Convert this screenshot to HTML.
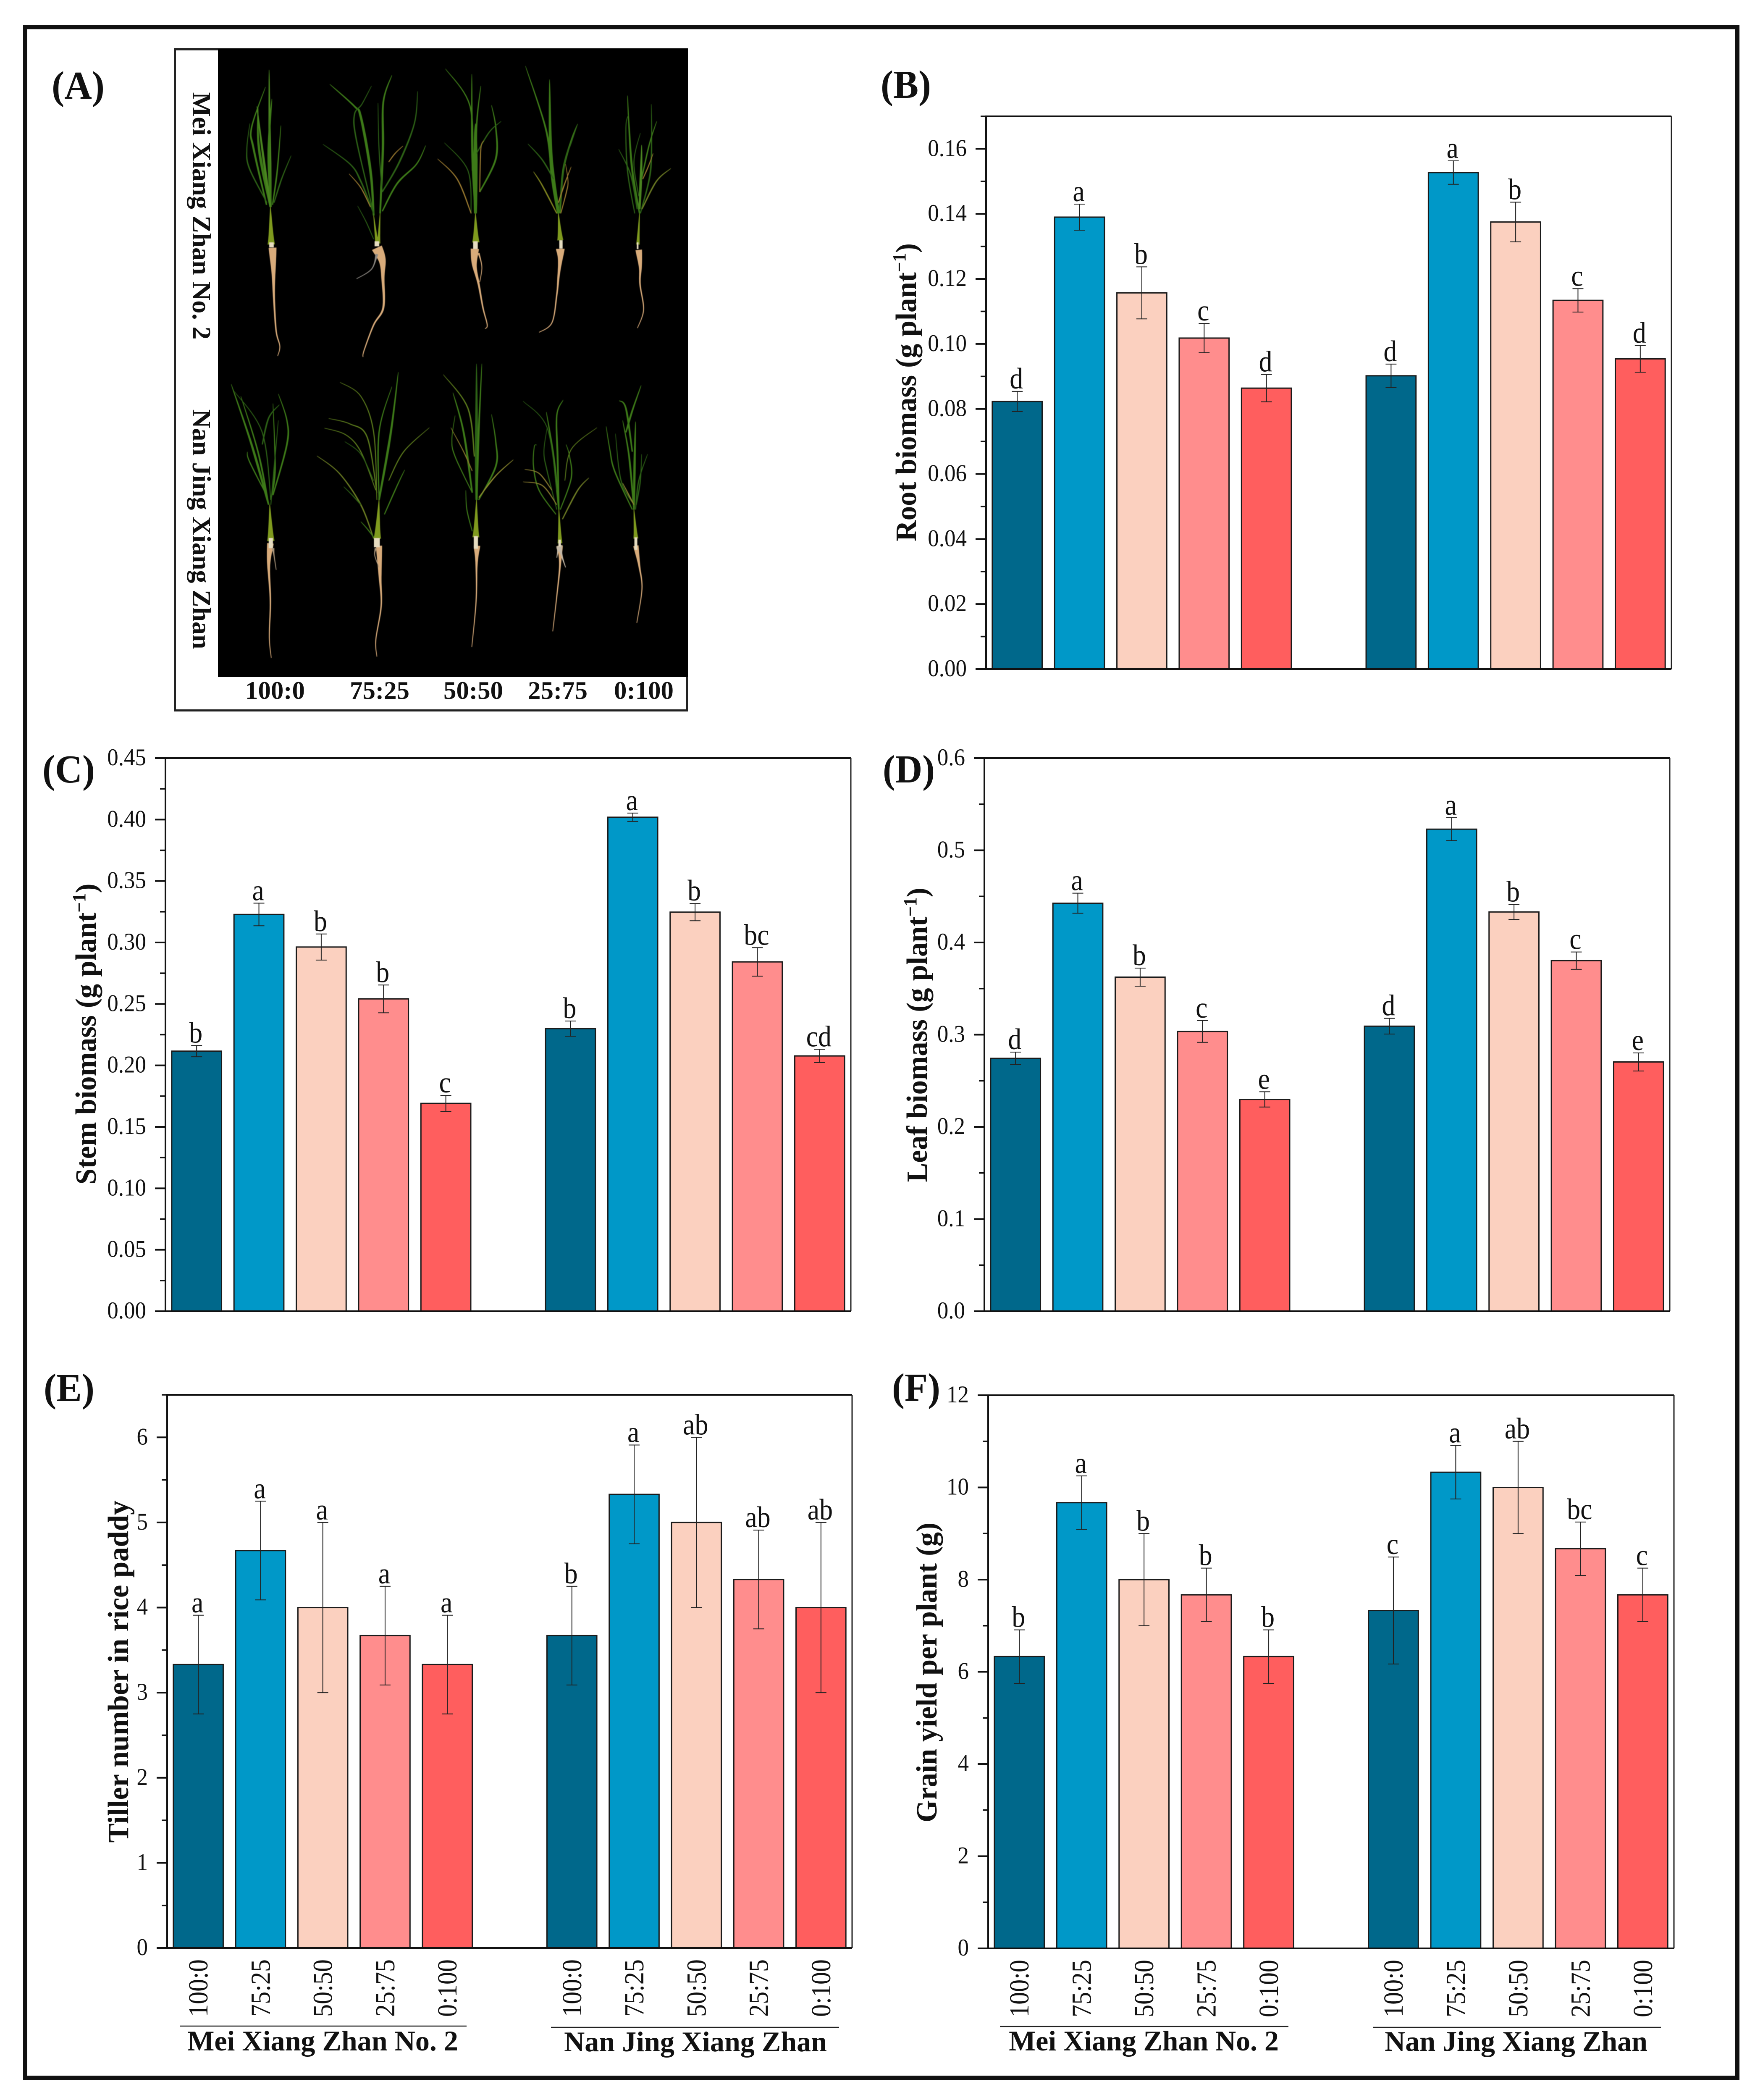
<!DOCTYPE html>
<html lang="en">
<head>
<meta charset="utf-8">
<title>Rice biomass and yield figure</title>
<style>
html,body{margin:0;padding:0;background:#fff;}
body{width:4179px;height:5000px;overflow:hidden;}
svg{display:block;position:fixed;left:0;top:0;overflow:hidden;}
text{font-family:"Liberation Serif",serif;fill:#111;}
</style>
</head>
<body>
<svg id="fig" xmlns="http://www.w3.org/2000/svg" width="4179" height="5013" viewBox="0 0 4179 5013">
<rect x="60" y="64.5" width="4077" height="4882.5" fill="none" stroke="#111" stroke-width="10"/>
<g>
<rect x="416.5" y="117.5" width="1219" height="1574" fill="#fff" stroke="#222" stroke-width="5"/>
<rect x="519" y="116" width="1119" height="1496" fill="#000"/>
<g id="plants" style="filter:blur(0.9px)"></g>
</g>
<g id="charts"></g>
<g id="labels"></g>
</svg>
<script>
// ---------- chart data ----------
const categories = ['100:0','75:25','50:50','25:75','0:100','100:0','75:25','50:50','25:75','0:100'];
const barColors = ['#00688b','#0098c8','#fbd0bf','#ff8d8d','#ff5e5e'];

const rootValues = [0.0823,0.139,0.1157,0.1018,0.0864,0.0902,0.1527,0.1375,0.1134,0.0954];
const rootErrors = [0.0031,0.0040,0.0080,0.0045,0.0042,0.0036,0.0036,0.0061,0.0036,0.0041];
const rootLetters = ['d','a','b','c','d','d','a','b','c','d'];
const rootTicks = ['0.00','0.02','0.04','0.06','0.08','0.10','0.12','0.14','0.16'];
const rootMax = 0.17;

const stemValues = [0.2116,0.3228,0.2963,0.2541,0.1691,0.2299,0.4019,0.3247,0.2842,0.2077];
const stemErrors = [0.0046,0.0092,0.0106,0.0113,0.0065,0.0062,0.0034,0.0070,0.0116,0.0054];
const stemLetters = ['b','a','b','b','c','b','a','b','bc','cd'];
const stemTicks = ['0.00','0.05','0.10','0.15','0.20','0.25','0.30','0.35','0.40','0.45'];
const stemMax = 0.45;

const leafValues = [0.2743,0.4426,0.3624,0.3035,0.2298,0.3092,0.5229,0.4331,0.3803,0.2704];
const leafErrors = [0.0068,0.0109,0.0098,0.0118,0.0083,0.0085,0.0124,0.0081,0.0094,0.0098];
const leafLetters = ['d','a','b','c','e','d','a','b','c','e'];
const leafTicks = ['0.0','0.1','0.2','0.3','0.4','0.5','0.6'];
const leafMax = 0.6;

const tillerValues = [3.33,4.67,4.0,3.67,3.33,3.67,5.33,5.0,4.33,4.0];
const tillerErrors = [0.58,0.58,1.0,0.58,0.58,0.58,0.58,1.0,0.58,1.0];
const tillerLetters = ['a','a','a','a','a','b','a','ab','ab','ab'];
const tillerTicks = ['0','1','2','3','4','5','6'];
const tillerMax = 6.5;

const grainValues = [6.33,9.67,8.0,7.67,6.33,7.33,10.33,10.0,8.67,7.67];
const grainErrors = [0.58,0.58,1.0,0.58,0.58,1.16,0.58,1.0,0.58,0.58];
const grainLetters = ['b','a','b','b','b','c','a','ab','bc','c'];
const grainTicks = ['0','2','4','6','8','10','12'];
const grainMax = 12;

// ---------- helpers ----------
const NS = 'http://www.w3.org/2000/svg';
const charts = document.getElementById('charts');
const labels = document.getElementById('labels');
const plantsLayer = document.getElementById('plants');

function mk(parent, tag, attrs){
  const el = document.createElementNS(NS, tag);
  for (const k in attrs) el.setAttribute(k, attrs[k]);
  parent.appendChild(el);
  return el;
}
function txt(parent, str, x, y, size, weight, anchor){
  const el = mk(parent, 'text', {x:x, y:y, 'font-size':size, 'font-weight':weight, 'text-anchor':anchor});
  el.textContent = str;
  return el;
}
// Places text at (x,y) with rotation, horizontally scaled to a wanted length or by a fixed factor
function placed(el, x, y, rot, len, factor){
  el.setAttribute('x', 0);
  el.setAttribute('y', 0);
  let k = factor || 1;
  if (len) k = len / el.getComputedTextLength();
  el.setAttribute('transform', 'translate(' + x + ' ' + y + ') rotate(' + rot + ') scale(' + k + ' 1)');
}

// ---------- panels ----------
function drawPanel(name, left, top, values, errors, letters, ticks, yMax, width, height){
  const g = mk(charts, 'g', {});
  
  
  const bottom = top + height;
  const y = v => bottom - (v / yMax) * height;
  const slot = i => (i < 5 ? i : i + 1);
  const x = i => left + (slot(i) + 0.5) * width / 11;
  const bandW = width / 11 * 0.8;

  values.forEach((v, i) => {
    const bar = mk(g, 'rect', {x: x(i) - bandW / 2, y: y(v), width: bandW, height: bottom - y(v), fill: barColors[i % 5], stroke: '#1a1a1a', 'stroke-width': 3});
    
    
  });
  values.forEach((v, i) => {
    const hi = y(v + errors[i]);
    const lo = y(v - errors[i]);
    const err = mk(g, 'path', {d: 'M' + x(i) + ' ' + hi + 'V' + lo + 'M' + (x(i) - 13) + ' ' + hi + 'H' + (x(i) + 13) + 'M' + (x(i) - 13) + ' ' + lo + 'H' + (x(i) + 13), fill: 'none', stroke: '#222', 'stroke-width': 2});
    
    
    const sig = txt(g, letters[i], 0, 0, 71, 'normal', 'middle');
    
    
    placed(sig, x(i) - 2, hi - 7, 0, 0, 0.9);
  });

  // frame
  const frame = mk(g, 'path', {d: 'M' + left + ' ' + top + 'H' + (left + width), fill: 'none', stroke: '#111', 'stroke-width': 4});
  
  
  const rightAxis = mk(g, 'path', {d: 'M' + (left + width) + ' ' + top + 'V' + bottom, fill: 'none', stroke: '#222', 'stroke-width': 3});
  
  
  const yAxis = mk(g, 'path', {d: 'M' + left + ' ' + (top - 2) + 'V' + (bottom + 2), fill: 'none', stroke: '#111', 'stroke-width': 4});
  
  
  const xAxis = mk(g, 'path', {d: 'M' + left + ' ' + bottom + 'H' + (left + width), fill: 'none', stroke: '#111', 'stroke-width': 4});
  
  

  // ticks
  const nums = ticks.map(parseFloat);
  const step = nums[1] - nums[0];
  nums.forEach((n, i) => {
    const ty = y(n);
    const tick = mk(g, 'path', {d: 'M' + (left - 25) + ' ' + ty + 'H' + left, fill: 'none', stroke: '#111', 'stroke-width': 4});
    
    
    const lab = txt(g, ticks[i], 0, 0, 57, 'normal', 'end');
    
    
    placed(lab, left - 46, ty + 17, 0, 0, 0.93);
    const mv = n + step / 2;
    if (mv <= yMax + 1e-9) {
      const minor = mk(g, 'path', {d: 'M' + (left - 13) + ' ' + y(mv) + 'H' + left, fill: 'none', stroke: '#111', 'stroke-width': 3.5});
      
      
    }
  });
  return {x: x, bottom: bottom};
}

function yTitle(name, main, sup, x, cy, len){
  const t = mk(labels, 'text', {'font-size': 70, 'font-weight': 'bold', 'text-anchor': 'middle'});
  
  
  const a = mk(t, 'tspan', {});
  a.textContent = main;
  if (sup) {
    const b = mk(t, 'tspan', {'font-size': 44, dy: -25});
    b.textContent = '\u22121';
    const c = mk(t, 'tspan', {dy: 25});
    c.textContent = ')';
  }
  placed(t, x, cy, -90, len);
}

function panelLetter(name, str, x0, x1, base){
  const t = txt(labels, str, 0, 0, 94, 'bold', 'middle');
  
  
  placed(t, (x0 + x1) / 2, base, 0, x1 - x0);
}

function groupLabels(name, info, meiX0, meiX1, meiY, meiLine, nanX0, nanX1, nanY, nanLine, lineA0, lineA1, lineB0, lineB1){
  categories.forEach((c, i) => {
    const t = txt(labels, c, 0, 0, 66, 'normal', 'end');
    
    
    placed(t, info.x(i) + 22, info.bottom + 27, -90, 137);
  });
  const l1 = mk(labels, 'path', {d: 'M' + lineA0 + ' ' + meiLine + 'H' + lineA1, stroke: '#222', 'stroke-width': 2.5, fill: 'none'});
  
  
  const l2 = mk(labels, 'path', {d: 'M' + lineB0 + ' ' + nanLine + 'H' + lineB1, stroke: '#222', 'stroke-width': 2.5, fill: 'none'});
  
  
  const g1 = txt(labels, 'Mei Xiang Zhan No. 2', 0, 0, 68, 'bold', 'middle');
  
  
  placed(g1, (meiX0 + meiX1) / 2, meiY, 0, meiX1 - meiX0);
  const g2 = txt(labels, 'Nan Jing Xiang Zhan', 0, 0, 68, 'bold', 'middle');
  
  
  placed(g2, (nanX0 + nanX1) / 2, nanY, 0, nanX1 - nanX0);
}

drawPanel('root-biomass', 2348, 277, rootValues, rootErrors, rootLetters, rootTicks, rootMax, 1632, 1316);
drawPanel('stem-biomass', 394, 1805, stemValues, stemErrors, stemLetters, stemTicks, stemMax, 1632, 1317);
drawPanel('leaf-biomass', 2344, 1805, leafValues, leafErrors, leafLetters, leafTicks, leafMax, 1632, 1317);
const tillerInfo = drawPanel('tiller-number', 398, 3321, tillerValues, tillerErrors, tillerLetters, tillerTicks, tillerMax, 1631, 1317);
const grainInfo = drawPanel('grain-yield', 2353, 3322, grainValues, grainErrors, grainLetters, grainTicks, grainMax, 1633, 1317);

yTitle('root-biomass', 'Root biomass (g plant', true, 2181, 934, 710);
yTitle('stem-biomass', 'Stem biomass (g plant', true, 228, 2462, 717);
yTitle('leaf-biomass', 'Leaf biomass (g plant', true, 2207, 2464, 701);
yTitle('tiller-number', 'Tiller number in rice paddy', false, 305, 3980, 815);
yTitle('grain-yield', 'Grain yield per plant (g)', false, 2230, 3982, 714);

panelLetter('panel-label-a', '(A)', 123, 249, 235);
panelLetter('panel-label-b', '(B)', 2097, 2217, 233);
panelLetter('panel-label-c', '(C)', 101, 226, 1863);
panelLetter('panel-label-d', '(D)', 2102, 2226, 1863);
panelLetter('panel-label-e', '(E)', 104, 225, 3336);
panelLetter('panel-label-f', '(F)', 2124, 2239, 3335);

groupLabels('tiller-number', tillerInfo, 446, 1091, 4882, 4824, 1343, 1969, 4884, 4827, 428, 1111, 1312, 1998);
groupLabels('grain-yield', grainInfo, 2402, 3045, 4882, 4825, 3297, 3923, 4883, 4827, 2381, 3068, 3269, 3955);

// ---------- photo labels ----------
const cultivar1 = txt(labels, 'Mei Xiang Zhan No. 2', 0, 0, 62, 'bold', 'middle');


placed(cultivar1, 459, 514, 90, 589);
const cultivar2 = txt(labels, 'Nan Jing Xiang Zhan', 0, 0, 62, 'bold', 'middle');


placed(cultivar2, 459, 1260, 90, 571);
const photoRatios = ['100:0','75:25','50:50','25:75','0:100'];
const photoRatioCentres = [655, 904, 1127, 1328, 1533];
photoRatios.forEach((r, i) => {
  const t = txt(labels, r, 0, 0, 60, 'bold', 'middle');
  
  
  placed(t, photoRatioCentres[i], 1664, 0, 142);
});

// ---------- rice plant drawing (photo of panel A) ----------
const T4 = {ox: 400, oy: 100, sx: 0.5102, sy: 0.5102};
const T5 = {ox: 400, oy: 800, sx: 0.5102, sy: 0.574};
const T6 = {ox: 1100, oy: 100, sx: 0.3827, sy: 0.5102};
const T7 = {ox: 1100, oy: 800, sx: 0.3827, sy: 0.574};

function spline(p){
  const out = [];
  const n = p.length;
  for (let i = 0; i < n - 1; i++) {
    const a = p[Math.max(i - 1, 0)], b = p[i], c = p[i + 1], d = p[Math.min(i + 2, n - 1)];
    for (let s = 0; s < 10; s++) {
      const t = s / 10, t2 = t * t, t3 = t2 * t;
      out.push([
        0.5 * (2 * b[0] + (c[0] - a[0]) * t + (2 * a[0] - 5 * b[0] + 4 * c[0] - d[0]) * t2 + (3 * b[0] - a[0] - 3 * c[0] + d[0]) * t3),
        0.5 * (2 * b[1] + (c[1] - a[1]) * t + (2 * a[1] - 5 * b[1] + 4 * c[1] - d[1]) * t2 + (3 * b[1] - a[1] - 3 * c[1] + d[1]) * t3)
      ]);
    }
  }
  out.push(p[n - 1]);
  return out;
}
function blade(parent, T, pts, w, color, mode){
  const real = pts.map(q => [T.ox + q[0] * T.sx, T.oy + q[1] * T.sy]);
  const s = spline(real);
  const L = [], R = [];
  s.forEach((q, i) => {
    const a = s[Math.max(i - 1, 0)], b = s[Math.min(i + 1, s.length - 1)];
    let dx = b[0] - a[0], dy = b[1] - a[1];
    const len = Math.hypot(dx, dy) || 1;
    dx /= len; dy /= len;
    const t = i / (s.length - 1);
    let hw;
    if (mode === 'leaf') hw = (w / 2) * Math.min(1, 0.45 + 1.4 * t) * Math.pow(1 - t, 0.7) + 0.5;
    else if (mode === 'root') hw = (w / 2) * (0.7 * Math.exp(-Math.pow(t / 0.22, 2)) + 0.3 * Math.pow(1 - t, 1.2)) + 0.8;
    else hw = (w / 2) * Math.pow(1 - t, 1.3) + 0.8;
    L.push((q[0] - dy * hw).toFixed(1) + ' ' + (q[1] + dx * hw).toFixed(1));
    R.unshift((q[0] + dy * hw).toFixed(1) + ' ' + (q[1] - dx * hw).toFixed(1));
  });
  return mk(parent, 'path', {d: 'M' + L.join('L') + 'L' + R.join('L') + 'Z', fill: color});
}

const G1 = '#3d7a18', G2 = '#4a8420', G3 = '#2d6216', TAN = '#9c7b30', STEM = '#7f9a1e', ROOT = '#d8ab7a', COLLAR = '#e6dcc0';

function plant(name, T, leaves, stems, roots, collar){
  const g = mk(plantsLayer, 'g', {});
  
  
  roots.forEach(r => blade(g, T, r[0], r[1], r[2] || ROOT, 'root'));
  leaves.forEach(l => blade(g, T, l[0], l[1] * 0.55, l[2] || G1, 'leaf'));
  stems.forEach(s => blade(g, T, s[0], s[1], STEM, 'stem'));
  if (collar) mk(g, 'rect', {x: T.ox + collar[0] * T.sx - collar[2] / 2, y: T.oy + collar[1] * T.sy, width: collar[2], height: collar[3], fill: COLLAR});
}

// top row
plant('plant-top-100-0', T4, [
  [[[478,770],[475,500],[472,130]],16,G2],
  [[[478,770],[425,500],[420,300]],14,G1],
  [[[460,760],[400,500],[390,400],[455,210]],10,G1],
  [[[462,750],[380,590],[368,500],[382,380]],6,G3],
  [[[480,770],[470,500],[485,265]],14,G1],
  [[[488,760],[510,600],[527,390]],7,G1],
  [[[495,750],[530,640],[575,530]],6,G3],
  [[[478,770],[440,500],[415,300]],12,G2]
], [[[[482,945],[478,770]],16]], [
  [[[488,960],[492,1060],[495,1200],[505,1350],[522,1420],[512,1465]],17]
], [483,935,11,12]);

plant('plant-top-75-25', T4, [
  [[[960,810],[945,600],[900,350],[870,300],[755,197]],14,G1],
  [[[990,800],[1003,500],[1005,280],[1045,155]],12,G1],
  [[[1000,700],[1080,560],[1150,380],[1165,230]],8,G3],
  [[[1000,790],[1070,660],[1160,570],[1203,483]],8,G1],
  [[[960,800],[900,650],[850,570],[723,477]],7,G3],
  [[[945,770],[900,680],[845,615]],4,TAN],
  [[[960,800],[880,460],[870,340],[905,290],[950,205]],6,G3],
  [[[960,920],[925,840],[885,765]],3,G3],
  [[[1030,560],[1060,520],[1097,485]],4,TAN],
  [[[1000,700],[985,500],[980,285]],4,G3]
], [[[[975,940],[960,810]],7],[[[983,940],[990,800]],7]], [
  [[[975,960],[1000,1020],[1003,1100],[1005,1240],[960,1320],[915,1440],[910,1470]],24],
  [[[975,990],[950,1060],[880,1105]],5,'#8e8a84']
], [975,930,11,12]);

plant('plant-top-50-50', T4, [
  [[[1435,800],[1420,500],[1418,150]],12,G1],
  [[[1435,800],[1435,500],[1435,380]],24,G1],
  [[[1440,700],[1440,400],[1460,205]],8,G1],
  [[[1415,800],[1400,600],[1290,470]],4,G3],
  [[[1415,800],[1350,640],[1258,545]],5,TAN],
  [[[1420,600],[1410,300],[1295,125]],6,G1],
  [[[1455,700],[1530,545],[1530,400],[1510,295]],9,G1],
  [[[1440,520],[1500,420],[1555,370]],5,G3],
  [[[1455,700],[1460,500],[1475,460]],4,TAN]
], [[[[1437,935],[1435,800]],16]], [
  [[[1432,965],[1430,1040],[1450,1130],[1470,1240],[1490,1320],[1480,1338]],18],
  [[[1450,985],[1465,1050],[1455,1120]],3]
], [1435,930,11,18]);

plant('plant-top-25-75', T6, [
  [[[600,800],[560,600],[520,400],[395,112]],12,G1],
  [[[600,800],[555,550],[545,175]],22,G1],
  [[[610,800],[630,600],[680,460],[720,382]],10,G1],
  [[[605,780],[640,560],[680,470],[720,382]],6,G3],
  [[[590,800],[500,670],[445,605]],6,'#80851f'],
  [[[570,640],[500,550],[410,475]],6,G3],
  [[[615,800],[650,700],[660,650],[645,570]],4,TAN],
  [[[600,750],[640,660],[680,582]],5,TAN]
], [[[[612,925],[600,800]],13]], [
  [[[612,965],[612,1010],[600,1100],[590,1180],[560,1310],[480,1355]],19]
], [616,925,8,20]);

plant('plant-top-0-100', T6, [
  [[[1105,800],[1060,600],[1040,400],[1030,250]],10,G1],
  [[[1105,780],[1115,600],[1118,480]],14,G2],
  [[[1075,800],[1030,600],[1020,400],[1035,340]],5,G3],
  [[[1090,780],[1050,620],[975,500]],6,G3],
  [[[1110,800],[1170,620],[1180,450],[1178,290]],7,G3],
  [[[1120,780],[1210,650],[1300,590]],6,'#6e7d24'],
  [[[1115,650],[1165,480],[1212,370]],6,G1],
  [[[1100,720],[1070,560],[1110,425]],4,G3],
  [[[1125,640],[1160,580],[1190,520]],4,TAN]
], [[[[1095,945],[1105,800]],7]], [
  [[[1100,970],[1110,1050],[1108,1130],[1130,1250],[1092,1335]],14]
], [1093,935,4,16]);

// bottom row
plant('plant-bottom-100-0', T5, [
  [[[470,700],[390,450],[295,200]],12,G1],
  [[[470,700],[420,480],[340,250]],8,G1],
  [[[480,680],[440,400],[310,230]],4,G3],
  [[[480,680],[500,550],[490,280]],7,G1],
  [[[490,660],[555,450],[555,350],[515,240]],8,G1],
  [[[440,450],[470,340],[520,285]],7,G3],
  [[[480,700],[500,500],[515,350]],4,G3],
  [[[460,660],[380,520],[370,480]],5,G1]
], [[[[480,850],[475,700]],16]], [
  [[[478,860],[470,950],[478,1100],[473,1250],[482,1335]],14],
  [[[490,880],[505,970]],5,'#a8947a']
], [480,838,10,24]);

plant('plant-bottom-75-25', T5, [
  [[[985,680],[1040,400],[1075,150]],12,G1],
  [[[985,680],[985,400],[1045,210]],6,G1],
  [[[975,680],[960,400],[900,250],[803,192]],4,'#5c7c1c'],
  [[[975,650],[930,420],[850,365],[750,342]],5,'#5c7c1c'],
  [[[970,640],[900,480],[830,410],[730,382]],4,'#5c7c1c'],
  [[[960,600],[900,490],[825,438]],3,G3],
  [[[960,840],[900,700],[800,570],[695,497]],6,'#6b7d22'],
  [[[900,700],[860,660],[820,625]],4,G3],
  [[[965,840],[930,800],[900,770]],4,G1],
  [[[1010,740],[1070,620],[1105,555]],5,G1],
  [[[1030,600],[1100,480],[1220,380]],4,'#5c7c1c']
], [[[[977,840],[985,680]],16]], [
  [[[985,870],[990,1000],[995,1120],[970,1260],[975,1330]],13],
  [[[970,880],[965,910],[985,960]],4,'#a8947a']
], [975,838,14,22]);

plant('plant-bottom-50-50', T5, [
  [[[1440,680],[1440,400],[1440,115]],18,G3],
  [[[1440,680],[1450,400],[1465,115]],10,G1],
  [[[1420,650],[1380,400],[1330,235]],10,G1],
  [[[1430,500],[1400,300],[1285,160]],6,'#5c7c1c'],
  [[[1420,650],[1340,500],[1325,430],[1340,330]],4,G1],
  [[[1420,560],[1380,480],[1320,380]],4,'#86772a'],
  [[[1450,680],[1530,540],[1530,440],[1510,325]],8,G1],
  [[[1420,810],[1395,720],[1390,640]],4,G1]
], [[[[1437,835],[1440,680]],15]], [
  [[[1442,870],[1440,950],[1438,1100],[1418,1290]],14]
], [1437,830,10,30]);
plant('plant-bottom-50-50-long-leaf', T7, [
  [[[105,670],[210,580],[320,513]],5,'#8d8a2e']
], [], [], null);

plant('plant-bottom-25-75', T7, [
  [[[603,720],[595,500],[590,330],[630,265]],9,G1],
  [[[603,720],[570,500],[525,315]],10,G1],
  [[[590,720],[530,560],[510,480],[530,380]],4,G3],
  [[[585,740],[480,640],[445,540],[450,460],[465,452]],5,G1],
  [[[590,700],[500,620],[380,605]],4,'#8d7f30'],
  [[[560,640],[480,570],[390,553]],4,'#8d7f30'],
  [[[612,720],[680,590],[670,500],[648,450]],5,G1],
  [[[625,760],[720,640],[790,588]],6,'#6e7d24'],
  [[[640,600],[680,470],[840,380]],3,'#5c7c1c'],
  [[[590,640],[530,380],[380,270]],3,G3]
], [[[[610,860],[603,720]],10]], [
  [[[610,870],[610,950],[590,1080],[565,1225]],12],
  [[[605,870],[625,920],[645,960]],14,'#c4b8a6'],
  [[[600,880],[590,920]],8,'#c4b8a6']
], [608,845,6,16]);

plant('plant-bottom-0-100', T7, [
  [[[1070,720],[1075,500],[1080,355]],12,G1],
  [[[1070,720],[1040,500],[1000,350]],9,G1],
  [[[1060,480],[1020,300],[978,268]],9,G1],
  [[[1020,400],[1060,310],[1115,205]],9,G1],
  [[[1060,720],[950,560],[920,470],[897,375]],6,G1],
  [[[1070,700],[990,600],[955,405]],5,G3],
  [[[1080,720],[1100,600],[1155,490]],5,G3],
  [[[1085,700],[1110,600],[1118,490]],5,G3],
  [[[1070,700],[1000,610]],5,'#8d7f30']
], [[[[1082,840],[1070,720]],10]], [
  [[[1082,870],[1105,960],[1120,1050],[1088,1190]],11]
], [1082,835,7,30]);
</script>
</body>
</html>
